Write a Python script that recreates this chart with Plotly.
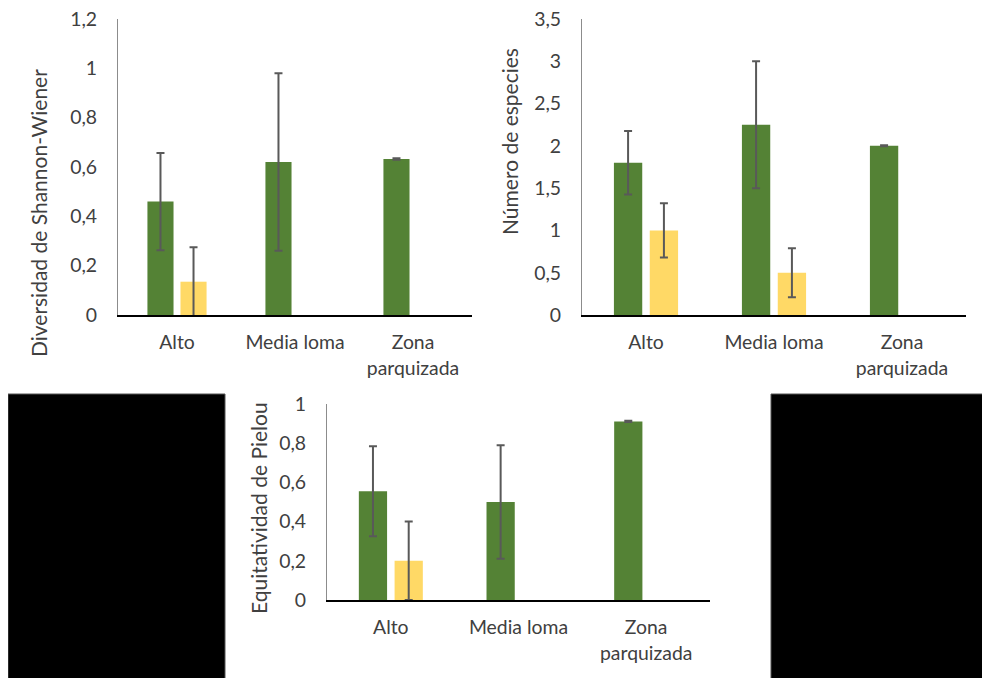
import plotly.graph_objects as go

categories = ["Alto", "Media loma", "Zona<br>parquizada"]

shannon_green = [0.46, 0.62, 0.632]
shannon_green_err = [0.197, 0.36, 0.003]
shannon_yellow = [0.135, None, None]
shannon_yellow_err = [0.14, None, None]

species_green = [1.8, 2.25, 2.0]
species_green_err = [0.375, 0.75, 0.006]
species_yellow = [1.0, 0.5, None]
species_yellow_err = [0.32, 0.29, None]

pielou_green = [0.555, 0.5, 0.911]
pielou_green_err = [0.23, 0.29, 0.003]
pielou_yellow = [0.2, None, None]
pielou_yellow_err = [0.2, None, None]

GREEN = "#548235"
YELLOW = "#FFD966"
ERR = "#595959"
TXT = "#404040"
FONT = "Lato"

W, H = 990, 678
OFF = 8  # page body margin

fig = go.Figure()

panels = [
    ("x", "y", shannon_green, shannon_green_err, shannon_yellow, shannon_yellow_err),
    ("x2", "y2", species_green, species_green_err, species_yellow, species_yellow_err),
    ("x3", "y3", pielou_green, pielou_green_err, pielou_yellow, pielou_yellow_err),
]

for xa, ya, g, ge, yv, ye in panels:
    fig.add_trace(go.Bar(
        x=categories, y=g, xaxis=xa, yaxis=ya, marker=dict(color=GREEN, line=dict(width=0)),
        error_y=dict(type="data", array=ge, visible=True, color=ERR, thickness=2, width=4),
        showlegend=False, offsetgroup="g",
    ))
    fig.add_trace(go.Bar(
        x=categories, y=yv, xaxis=xa, yaxis=ya, marker=dict(color=YELLOW, line=dict(width=0)),
        error_y=dict(type="data", array=ye, visible=True, color=ERR, thickness=2, width=4),
        showlegend=False, offsetgroup="y",
    ))

def px_x(a, b):
    return [(a - OFF) / W, (b - OFF) / W]

def px_y(top, bottom):
    return [1 - (bottom - OFF) / H, 1 - (top - OFF) / H]

def fx(a):
    return (a - OFF) / W

def fy(a):
    return 1 - (a - OFF) / H

TICK = 19.4
TITLE = 21

xcommon = dict(showline=True, linecolor="black", linewidth=2, showgrid=False, zeroline=False,
               ticks="", tickfont=dict(family=FONT, size=TICK, color=TXT), ticklabelstandoff=9,
               fixedrange=True, automargin=False, ticklabeloverflow="allow")
ycommon = dict(showline=True, linecolor="#8c8c8c", linewidth=1, showgrid=False, zeroline=False,
               ticks="", tickfont=dict(family=FONT, size=TICK, color=TXT), ticklabelstandoff=16,
               fixedrange=True, automargin=False, ticklabeloverflow="allow")

fig.update_layout(
    template="none",
    width=W, height=H,
    margin=dict(l=0, r=0, t=0, b=0, pad=0),
    paper_bgcolor="white", plot_bgcolor="white",
    separators=",.",
    barmode="group", bargap=0.44, bargroupgap=0.21,
    font=dict(family=FONT, color=TXT),
    xaxis=dict(domain=px_x(118, 472), anchor="y", **xcommon),
    yaxis=dict(domain=px_y(19, 315), anchor="x", range=[0, 1.2], dtick=0.2, **ycommon),
    xaxis2=dict(domain=px_x(582, 966), anchor="y2", **xcommon),
    yaxis2=dict(domain=px_y(19, 315), anchor="x2", range=[0, 3.5], dtick=0.5, **ycommon),
    xaxis3=dict(domain=px_x(327, 710), anchor="y3", **xcommon),
    yaxis3=dict(domain=px_y(404, 600), anchor="x3", range=[0, 1], dtick=0.2, **ycommon),
    shapes=[
        dict(type="rect", xref="paper", yref="paper", x0=fx(8), x1=fx(225), y0=0, y1=fy(394),
             fillcolor="black", line=dict(color="#555555", width=1), layer="above"),
        dict(type="rect", xref="paper", yref="paper", x0=fx(771), x1=1.0, y0=0, y1=fy(394),
             fillcolor="black", line=dict(color="#555555", width=1), layer="above"),
    ],
    annotations=[
        dict(text="Diversidad de Shannon-Wiener", xref="paper", yref="paper", x=fx(38), y=fy(213),
             textangle=-90, showarrow=False, font=dict(family=FONT, size=TITLE, color=TXT),
             xanchor="center", yanchor="middle"),
        dict(text="Número de especies", xref="paper", yref="paper", x=fx(509), y=fy(142),
             textangle=-90, showarrow=False, font=dict(family=FONT, size=TITLE, color=TXT),
             xanchor="center", yanchor="middle"),
        dict(text="Equitatividad de Pielou", xref="paper", yref="paper", x=fx(258), y=fy(508),
             textangle=-90, showarrow=False, font=dict(family=FONT, size=TITLE, color=TXT),
             xanchor="center", yanchor="middle"),
    ],
)

fig.write_html("out.html")
